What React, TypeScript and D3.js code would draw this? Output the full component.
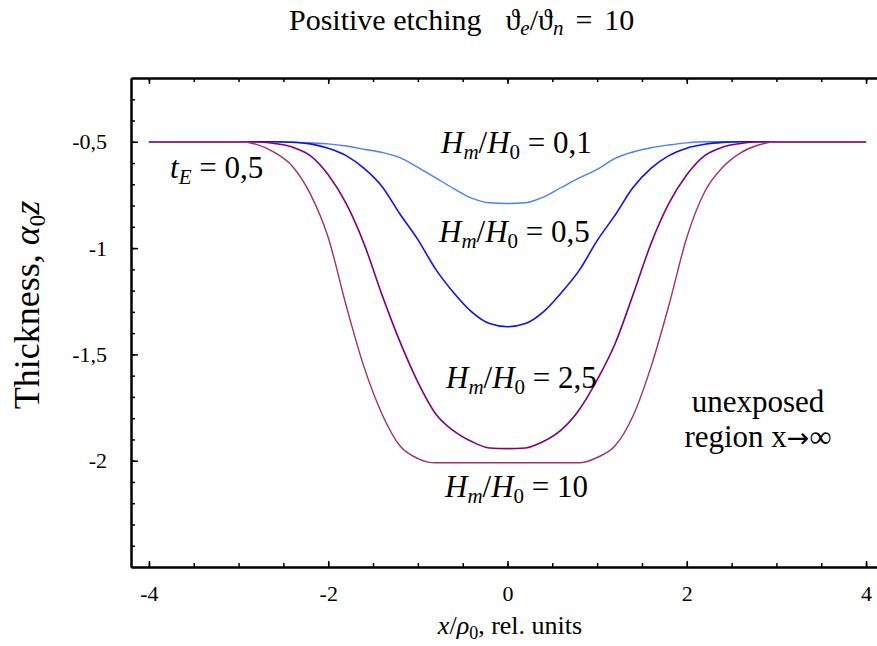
import * as d3 from "d3";
import { useRef, useEffect } from "react";

// sampled x positions (rel. units)
const xs = [
  -4, -3, -2.8, -2.6, -2.4, -2.2, -2, -1.8, -1.6, -1.4, -1.2, -1, -0.8, -0.6,
  -0.4, -0.2, 0, 0.2, 0.4, 0.6, 0.8, 1, 1.2, 1.4, 1.6, 1.8, 2, 2.2, 2.4, 2.6,
  2.8, 3, 4,
];

// thickness profiles, one per Hm/H0 ratio
const h01 = [
  -0.5, -0.5, -0.5, -0.5, -0.502, -0.505, -0.51, -0.52, -0.535, -0.55, -0.575,
  -0.62, -0.67, -0.72, -0.765, -0.787, -0.79, -0.787, -0.76, -0.715, -0.67,
  -0.63, -0.578, -0.548, -0.528, -0.515, -0.505, -0.5, -0.5, -0.5, -0.5, -0.5,
  -0.5,
];
const h05 = [
  -0.5, -0.5, -0.5, -0.5, -0.502, -0.51, -0.53, -0.565, -0.625, -0.71, -0.84,
  -0.96, -1.1, -1.21, -1.3, -1.355, -1.37, -1.355, -1.3, -1.21, -1.105, -0.965,
  -0.845, -0.715, -0.625, -0.565, -0.53, -0.512, -0.503, -0.5, -0.5, -0.5,
  -0.5,
];
const h25 = [
  -0.5, -0.5, -0.5, -0.508, -0.525, -0.565, -0.655, -0.79, -0.98, -1.22, -1.44,
  -1.63, -1.78, -1.86, -1.91, -1.94, -1.943, -1.94, -1.91, -1.855, -1.76,
  -1.62, -1.45, -1.22, -0.98, -0.79, -0.655, -0.565, -0.525, -0.508, -0.5,
  -0.5, -0.5,
];
const h10 = [
  -0.5, -0.5, -0.512, -0.55, -0.615, -0.745, -0.95, -1.27, -1.56, -1.78, -1.93,
  -1.99, -2.01, -2.01, -2.01, -2.01, -2.01, -2.01, -2.01, -2.01, -2.01, -1.985,
  -1.93, -1.79, -1.56, -1.27, -0.95, -0.735, -0.62, -0.552, -0.515, -0.5, -0.5,
];

const xTicks = [-4, -2, 0, 2, 4];
const yTicks = [-0.5, -1, -1.5, -2];

const width = 877;
const height = 646;
const serif = "'Liberation Serif', 'Times New Roman', serif";

export default function App() {
  const gxMinor = useRef<SVGGElement>(null);
  const gxMajor = useRef<SVGGElement>(null);
  const gtMinor = useRef<SVGGElement>(null);
  const gtMajor = useRef<SVGGElement>(null);
  const gyMinor = useRef<SVGGElement>(null);
  const gyMajor = useRef<SVGGElement>(null);

  const x = d3.scaleLinear([-4.2, 4.2], [131, 884]);
  const y = d3.scaleLinear([-2.5, -0.2], [567, 78]);

  const line = d3
    .line<number>()
    .x((d, i) => x(xs[i]))
    .y((d) => y(d))
    .curve(d3.curveMonotoneX);

  const fmt = (d: d3.NumberValue) => String(d).replace(".", ",");

  useEffect(() => {
    const style = (sel: any) => {
      sel.select(".domain").attr("stroke-width", 2);
      sel.selectAll(".tick line").attr("stroke-width", 1.5);
      sel
        .selectAll("text")
        .attr("font-family", serif)
        .attr("font-size", 22)
        .attr("fill", "#000");
    };

    const xMinor = d3.range(-4, 4.01, 0.5);
    d3.select(gxMinor.current)
      .call(d3.axisBottom(x).tickValues(xMinor).tickSize(-4).tickSizeOuter(0).tickFormat(() => ""))
      .call(style);
    d3.select(gxMajor.current)
      .call(d3.axisBottom(x).tickValues(xTicks).tickSize(-6).tickSizeOuter(0).tickPadding(18).tickFormat(fmt))
      .call(style);
    d3.select(gtMinor.current)
      .call(d3.axisTop(x).tickValues(xMinor).tickSize(-4).tickSizeOuter(0).tickFormat(() => ""))
      .call(style);
    d3.select(gtMajor.current)
      .call(d3.axisTop(x).tickValues(xTicks).tickSize(-6).tickSizeOuter(0).tickFormat(() => ""))
      .call(style);

    const yMinor = d3.range(-2.4, -0.25, 0.1);
    d3.select(gyMinor.current)
      .call(d3.axisLeft(y).tickValues(yMinor).tickSize(-4).tickSizeOuter(0).tickFormat(() => ""))
      .call(style);
    d3.select(gyMajor.current)
      .call(d3.axisLeft(y).tickValues(yTicks).tickSize(-7).tickSizeOuter(0).tickPadding(24).tickFormat(fmt))
      .call(style);
  }, []);

  const series = [
    { v: h01, color: "#4a7dff", w: 1.4 },
    { v: h05, color: "#1010f0", w: 1.6 },
    { v: h25, color: "#800080", w: 1.6 },
    { v: h10, color: "#a0306e", w: 1.4 },
  ];

  const hLabel = (val: string, lx: number, ly: number) => (
    <text x={lx} y={ly} fontFamily={serif} fontSize={31}>
      <tspan fontStyle="italic">H</tspan>
      <tspan fontStyle="italic" fontSize={21} dy={6}>m</tspan>
      <tspan dy={-6}>/</tspan>
      <tspan fontStyle="italic">H</tspan>
      <tspan fontSize={21} dy={6}>0</tspan>
      <tspan dy={-6}> = {val}</tspan>
    </text>
  );

  return (
    <svg
      width={width}
      height={height}
      style={{ position: "absolute", left: 0, top: 0, background: "#fff" }}
    >
      <text x={289} y={30} fontFamily={serif} fontSize={30}>
        Positive etching
        <tspan dx={24}>ϑ</tspan>
        <tspan fontStyle="italic" fontSize={21} dy={5}>e</tspan>
        <tspan dy={-5}>/ϑ</tspan>
        <tspan fontStyle="italic" fontSize={21} dy={5}>n</tspan>
        <tspan dy={-5} dx={12}>=</tspan>
        <tspan dx={12}>10</tspan>
      </text>

      <g ref={gxMinor} transform={`translate(0,${y(-2.5)})`} />
      <g ref={gxMajor} transform={`translate(0,${y(-2.5)})`} />
      <g ref={gtMinor} transform={`translate(0,${y(-0.2)})`} />
      <g ref={gtMajor} transform={`translate(0,${y(-0.2)})`} />
      <g ref={gyMinor} transform={`translate(${x(-4.2)},0)`} />
      <g ref={gyMajor} transform={`translate(${x(-4.2)},0)`} />

      {series.map((s, i) => (
        <path key={i} d={line(s.v) ?? ""} fill="none" stroke={s.color} strokeWidth={s.w} />
      ))}

      <text x={170} y={178} fontFamily={serif} fontSize={31}>
        <tspan fontStyle="italic">t</tspan>
        <tspan fontStyle="italic" fontSize={21} dy={6}>E</tspan>
        <tspan dy={-6}> = 0,5</tspan>
      </text>

      {hLabel("0,1", 441, 153)}
      {hLabel("0,5", 439, 242)}
      {hLabel("2,5", 446, 388)}
      {hLabel("10", 445, 497)}

      <text x={758} y={412} textAnchor="middle" fontFamily={serif} fontSize={31}>
        unexposed
      </text>
      <text x={758} y={447} textAnchor="middle" fontFamily={serif} fontSize={31}>
        region x<tspan fontFamily="'DejaVu Sans', sans-serif" fontSize={27}>→</tspan>∞
      </text>

      <text x={510} y={634} textAnchor="middle" fontFamily={serif} fontSize={26}>
        <tspan fontStyle="italic">x</tspan>
        <tspan>/</tspan>
        <tspan fontStyle="italic">ρ</tspan>
        <tspan fontSize={18} dy={5}>0</tspan>
        <tspan dy={-5}>, rel. units</tspan>
      </text>

      <text
        transform="translate(39,305) rotate(-90)"
        textAnchor="middle"
        fontFamily={serif}
        fontSize={36}
      >
        Thickness,{" "}
        <tspan fontStyle="italic">α</tspan>
        <tspan fontSize={23} dy={6}>0</tspan>
        <tspan fontStyle="italic" dy={-6}>z</tspan>
      </text>
    </svg>
  );
}
